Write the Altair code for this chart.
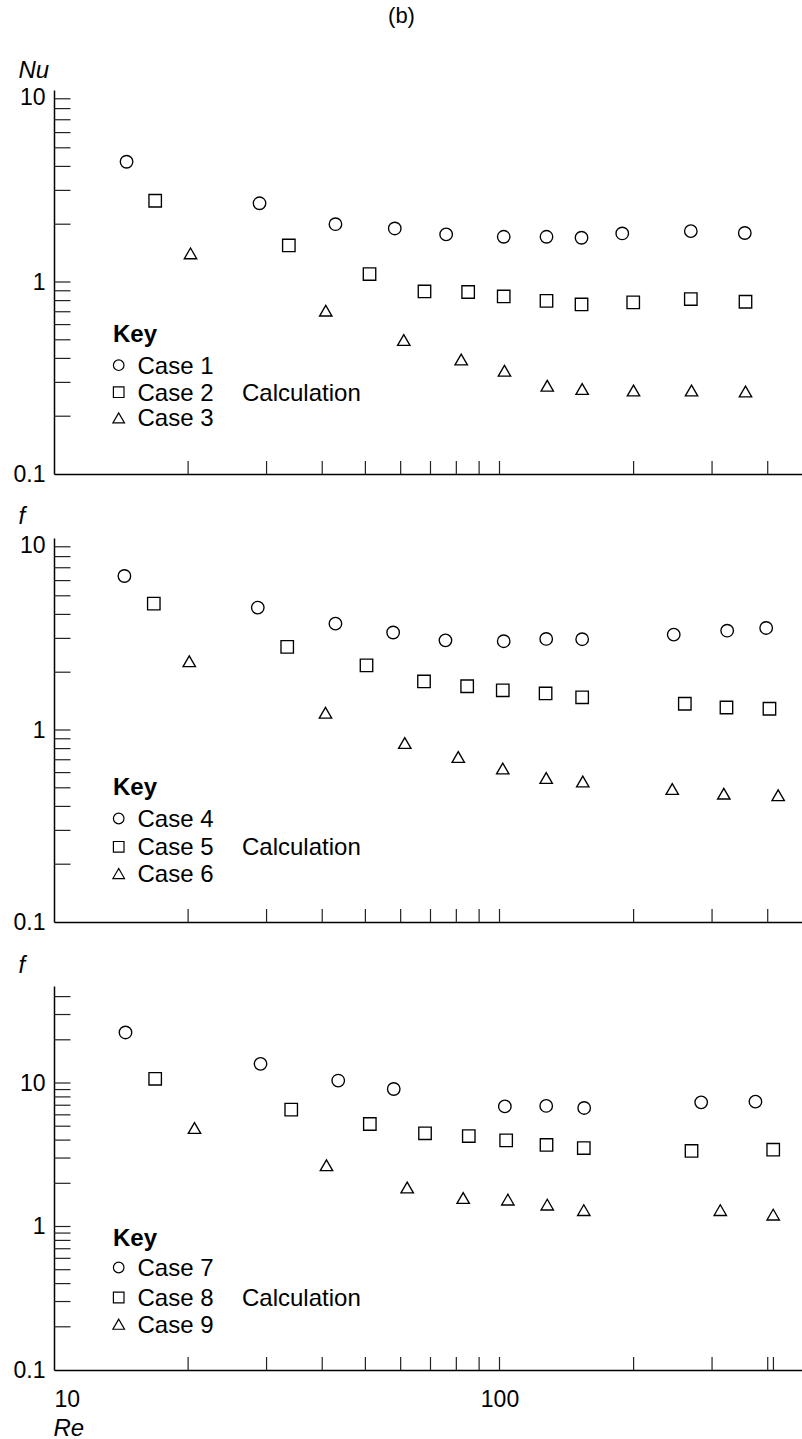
import altair as alt
import pandas as pd

FONT = "Liberation Sans"

# ---------------- data ----------------
# Panel 1 : Nu
case1_re = [14.55, 28.93, 42.83, 58.2, 75.9, 102.2, 127.5, 152.8, 188.6, 268.8, 355.3]
case1_nu = [4.23, 2.57, 2.00, 1.90, 1.77, 1.72, 1.72, 1.70, 1.79, 1.84, 1.80]
case2_re = [16.87, 33.66, 51.08, 67.86, 85.04, 102.2, 127.5, 152.8, 199.6, 268.8, 356.6]
case2_nu = [2.65, 1.55, 1.10, 0.893, 0.887, 0.841, 0.797, 0.764, 0.783, 0.815, 0.789]
case3_re = [20.25, 40.74, 60.97, 82.04, 102.6, 128.0, 153.3, 199.9, 269.8, 356.6]
case3_nu = [1.41, 0.709, 0.499, 0.395, 0.345, 0.288, 0.277, 0.272, 0.272, 0.269]

# Panel 2 : f
case4_re = [14.39, 28.67, 42.83, 57.71, 75.63, 102.2, 127.3, 153.3, 246.1, 324.4, 396.8]
case4_f = [6.34, 4.34, 3.58, 3.22, 2.93, 2.90, 2.98, 2.97, 3.14, 3.29, 3.40]
case5_re = [16.75, 33.38, 50.29, 67.69, 84.61, 101.7, 126.9, 153.3, 260.6, 323.2, 403.6]
case5_f = [4.55, 2.71, 2.17, 1.79, 1.69, 1.61, 1.55, 1.48, 1.37, 1.31, 1.29]
case6_re = [20.12, 40.68, 61.29, 80.8, 101.7, 127.3, 153.8, 244.2, 318.8, 422.2]
case6_f = [2.28, 1.23, 0.856, 0.723, 0.630, 0.562, 0.539, 0.493, 0.466, 0.457]

# Panel 3 : f
case7_re = [14.47, 29.08, 43.45, 57.89, 102.8, 127.3, 154.9, 283.6, 375.4]
case7_f = [22.5, 13.6, 10.4, 9.08, 6.87, 6.92, 6.70, 7.33, 7.41]
case8_re = [16.87, 34.08, 51.16, 68.05, 85.32, 103.5, 127.5, 154.6, 269.8, 411.5]
case8_f = [10.7, 6.52, 5.18, 4.46, 4.27, 3.98, 3.70, 3.52, 3.36, 3.43]
case9_re = [20.67, 40.89, 62.06, 82.89, 104.4, 128.0, 154.6, 313.0, 411.5]
case9_f = [4.86, 2.67, 1.87, 1.58, 1.54, 1.42, 1.30, 1.30, 1.21]

# axis tick values / labels
x_tick_values = [20, 30, 40, 50, 60, 70, 80, 90, 100, 200, 300, 400]
x_tick_values_3 = x_tick_values + [412]
x_label_values = [10, 100]
y_label_values = [0.1, 1, 10]
y_minor_12 = [0.2, 0.3, 0.4, 0.5, 0.6, 0.7, 0.8, 0.9, 1, 2, 3, 4, 5, 6, 7, 8, 9]
y_minor_3 = y_minor_12 + [10, 20, 30, 40]

SHAPES = ["circle", "square", "triangle-up"]
MARK_SIZES = [156, 154, 210]
KEY_SIZES = [112, 112, 135]

# ---------------- layout constants ----------------
W = 748
H = 384
X_MAX = 10 ** (1 + W / 445.5)


def text_layer(txt, x, y, size=24, weight="normal", align="left"):
    return alt.Chart(pd.DataFrame({"t": [txt]})).mark_text(
        align=align, baseline="alphabetic", font=FONT, fontSize=size,
        fontWeight=weight, color="black").encode(
        x=alt.value(x), y=alt.value(y), text="t:N")


def make_panel(cases, res, vals, ytitle, ytop, yticks, xticks, last,
               ten_offset, title_y, key_baselines, extra_layers=()):
    rows = []
    for c, rr, vv in zip(cases, res, vals):
        for a, b in zip(rr, vv):
            rows.append({"Re": a, "v": b, "case": c})
    df = pd.DataFrame(rows)

    xscale = alt.Scale(type="log", domain=[10, X_MAX], nice=False)
    yscale = alt.Scale(type="log", domain=[0.1, ytop], nice=False)

    if last:
        xaxis = alt.Axis(values=x_label_values, format="~g", tickSize=0, ticks=False,
                         labelFontSize=23, labelFont=FONT, labelColor="black",
                         labelPadding=18, labelFlush=3, domainColor="black",
                         domainWidth=1.5, grid=False,
                         title="Re", titleFont=FONT, titleFontSize=24,
                         titleFontStyle="italic", titleFontWeight="normal",
                         titleColor="black", titleX=-1, titleY=65.7,
                         titleAlign="left", titleBaseline="alphabetic")
    else:
        xaxis = alt.Axis(labels=False, ticks=False, tickSize=0, title=None,
                         domainColor="black", domainWidth=1.5, grid=False)

    yaxis = alt.Axis(values=y_label_values, format="~g", ticks=False, tickSize=0,
                     labelFontSize=23, labelFont=FONT, labelColor="black",
                     labelPadding=9, labelFlush=False,
                     labelOffset={"condition": {"test": "datum.value == 10",
                                                "value": ten_offset}, "value": 0},
                     domainColor="black", domainWidth=1.5, grid=False,
                     title=ytitle, titleFont=FONT, titleFontSize=24,
                     titleFontStyle="italic", titleFontWeight="normal",
                     titleColor="black", titleAngle=0, titleX=-36, titleY=title_y,
                     titleAlign="left", titleBaseline="alphabetic")

    points = alt.Chart(df).mark_point(filled=False, color="black", opacity=1,
                                      strokeWidth=1.35).encode(
        x=alt.X("Re:Q", scale=xscale, axis=xaxis),
        y=alt.Y("v:Q", scale=yscale, axis=yaxis),
        shape=alt.Shape("case:N", scale=alt.Scale(domain=cases, range=SHAPES),
                        legend=None),
        size=alt.Size("case:N", scale=alt.Scale(domain=cases, range=MARK_SIZES),
                      legend=None),
    )

    ytick_layer = alt.Chart(pd.DataFrame({"v": yticks})).mark_rule(
        color="#222", strokeWidth=1.2).encode(
        y=alt.Y("v:Q", scale=yscale, axis=yaxis),
        x=alt.value(0), x2=alt.value(16.5))

    xtick_layer = alt.Chart(pd.DataFrame({"Re": xticks})).mark_rule(
        color="#222", strokeWidth=1.2).encode(
        x=alt.X("Re:Q", scale=xscale, axis=xaxis),
        y=alt.value(H), y2=alt.value(H - 13))

    # ---- key (legend) ----
    key_layers = [text_layer("Key", 59, key_baselines[0], weight="bold")]
    for i, c in enumerate(cases):
        bl = key_baselines[i + 1]
        key_layers.append(
            alt.Chart(pd.DataFrame({"case": [c]})).mark_point(
                shape=SHAPES[i], size=KEY_SIZES[i], filled=False, color="black",
                opacity=1, strokeWidth=1.2).encode(
                x=alt.value(64.7), y=alt.value(bl - 8.5)))
        key_layers.append(text_layer(c, 83.5, bl))
    key_layers.append(text_layer("Calculation", 188, key_baselines[2]))

    layers = [ytick_layer, xtick_layer, points] + key_layers + list(extra_layers)
    return alt.layer(*layers).properties(width=W, height=H)


anchor = alt.Chart(pd.DataFrame({"a": [0]})).mark_rule(
    color="white", strokeWidth=0.1).encode(
    x=alt.value(-53.5), y=alt.value(-89.3), y2=alt.value(-89.0))

title_b = text_layer("(b)", 347.5, -67, size=22, align="center")

p1 = make_panel(["Case 1", "Case 2", "Case 3"],
                [case1_re, case2_re, case3_re], [case1_nu, case2_nu, case3_nu],
                "Nu", 10, y_minor_12, x_tick_values, False, 7,
                -12.6, [252.4, 283.7, 310.7, 336.4], extra_layers=[anchor, title_b])
p2 = make_panel(["Case 4", "Case 5", "Case 6"],
                [case4_re, case5_re, case6_re], [case4_f, case5_f, case6_f],
                "f", 10, y_minor_12, x_tick_values, False, 7,
                -14.4, [257.3, 289.0, 317.3, 344.0])
p3 = make_panel(["Case 7", "Case 8", "Case 9"],
                [case7_re, case8_re, case9_re], [case7_f, case8_f, case9_f],
                "f", 10 ** (-1 + H / 143.5), y_minor_3, x_tick_values_3, True, 0,
                -13.3, [260.0, 290.0, 320.0, 346.7])

chart = alt.vconcat(p1, p2, p3, spacing=64, bounds="flush").resolve_scale(
    y="independent", shape="independent", size="independent"
).properties(
    padding={"left": 0, "top": 0, "right": 0, "bottom": 0},
    background="white"
).configure_view(stroke=None)

chart.save("out.html", embed_options={"renderer": "svg", "actions": False})
